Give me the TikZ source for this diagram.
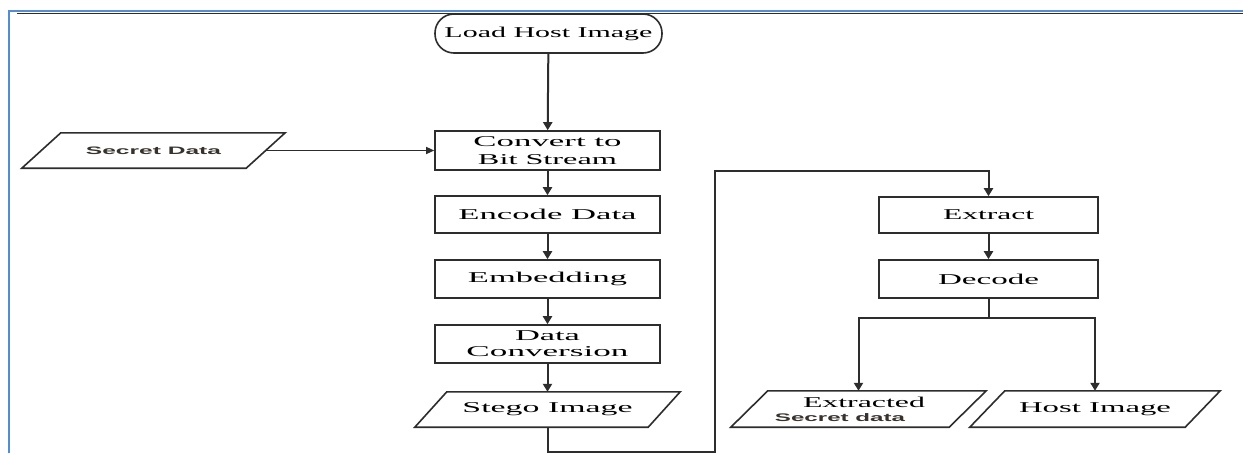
\documentclass[tikz,border=0pt]{standalone}
\usepackage{graphicx}
\usepackage{fontspec}
\setmainfont{Liberation Serif}
\newfontfamily\labelsans{Liberation Sans}
\usetikzlibrary{arrows.meta}

% stretch a text horizontally to a given width, keeping its height
\newcommand{\wt}[2]{\resizebox{#1pt}{\height}{#2}}

\definecolor{framebl}{RGB}{84,141,212}
\definecolor{ink}{RGB}{45,45,45}
\definecolor{softink}{RGB}{55,50,45}

\tikzset{
  boxline/.style={draw=ink, line width=1.6pt},
  procbox/.style={boxline, rectangle, minimum width=225pt, minimum height=38pt,
    inner sep=0pt, align=center, text=black, font=\fontsize{15}{18}\selectfont},
  iobox/.style={rectangle, draw=none, inner sep=0pt, align=center, text=black,
    font=\fontsize{15}{18}\selectfont},
  flow/.style={ink, line width=2pt, -{Triangle[length=8pt,width=9pt]}},
  link/.style={ink, line width=2pt},
  thinflow/.style={ink, line width=1.2pt, -{Triangle[length=8pt,width=7pt]}},
}

% outline of an input/output box: a parallelogram around a named node
\newcommand{\slantframe}[2]{%
  \draw[boxline] ([xshift=#2pt]#1.north west) -- ([xshift=#2pt]#1.north east)
    -- ([xshift=-#2pt]#1.south east) -- ([xshift=-#2pt]#1.south west) -- cycle;}

\begin{document}
\begin{tikzpicture}[x=1pt, y=-1pt]
  \useasboundingbox (0,0) rectangle (1243,453);
  \fill[white] (0,0) rectangle (1243,453);

  % page frame
  \draw[framebl, line width=2.2pt] (9,453) -- (9,11) -- (1243,11);
  \draw[ink, line width=1.2pt] (17,13.6) -- (1243,13.6);

  % embedding side
  \node[procbox, minimum width=227pt, minimum height=39pt, rounded corners=19pt]
    (load) at (548.5,33.5) {\wt{208}{Load Host Image}};
  \node[procbox, minimum height=39pt] (convert) at (547.5,150.5)
    {\wt{148}{Convert to}\\\wt{139}{Bit Stream}};
  \node[procbox, minimum height=37pt] (encode) at (547.5,214.5) {\wt{178}{Encode Data}};
  \node[procbox] (embed) at (547.5,279) {\wt{159}{Embedding}};
  \node[procbox, font=\fontsize{15}{16}\selectfont] (conv) at (547.5,344)
    {\wt{65}{Data}\\\wt{162}{Conversion}};
  \node[iobox, minimum width=233pt, minimum height=35pt] (stego) at (547.5,409.5)
    {\wt{170}{Stego Image}};
  \node[iobox, minimum width=224pt, minimum height=35pt, text=softink,
    font=\labelsans\bfseries\fontsize{10.8}{13}\selectfont]
    (secret) at (153.5,150.5) {\wt{135}{Secret Data}};

  % extraction side
  \node[procbox, minimum width=219pt, minimum height=36pt] (extract) at (988.5,215)
    {\wt{91}{Extract}};
  \node[procbox, minimum width=219pt] (decode) at (988.5,279) {\wt{101}{Decode}};
  \node[iobox, minimum width=218pt, minimum height=36pt,
    font=\fontsize{15}{14}\selectfont] (extracted) at (858.5,409)
    {\hspace*{11pt}\wt{122}{Extracted}\\
     {\labelsans\bfseries\fontsize{11}{13}\selectfont\color{softink}\wt{130}{Secret data}}\hspace*{37pt}};
  \node[iobox, minimum width=215pt, minimum height=36pt] (host) at (1095,409)
    {\wt{152}{Host Image}};

  \slantframe{stego}{16}
  \slantframe{secret}{19.5}
  \slantframe{extracted}{18.5}
  \slantframe{host}{17.5}

  % connectors
  \draw[flow] (load) -- (convert);
  \draw[thinflow] (secret) -- (convert);
  \draw[flow] (convert) -- (encode);
  \draw[flow] (encode) -- (embed);
  \draw[flow] (embed) -- (conv);
  \draw[flow] (conv) -- (stego);

  \coordinate (loopBot) at (715,451.5);
  \coordinate (loopTop) at (715,171);
  \draw[flow] (stego.south) |- (loopBot) -- (loopTop) -| (extract.north);

  \draw[flow] (extract) -- (decode);
  \coordinate (split) at (988.5,318);
  \draw[link] (decode.south) -- (split);
  \draw[flow] (split) -| (extracted.north);
  \draw[flow] (split) -| (host.north);
\end{tikzpicture}
\end{document}
